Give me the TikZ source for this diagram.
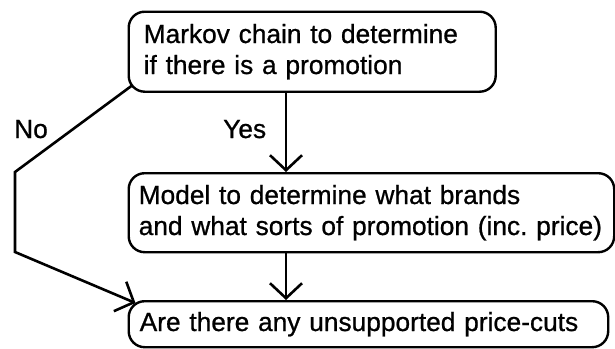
\documentclass[tikz,border=0pt]{standalone}
\usepackage{fontspec}
\setmainfont{Liberation Sans}[FakeBold=0.8]
\usetikzlibrary{arrows.meta,calc}

\tikzset{
  txt/.style={font=\fontsize{26.3}{31}\selectfont\frenchspacing},
  box/.style={draw, line width=2.4pt, rounded corners=16pt, anchor=north west,
    align=left, inner ysep=0pt, txt},
  lbl/.style={anchor=base west, inner sep=0pt, txt},
  conn/.style={line width=2.6pt, line join=miter,
    -{Straight Barb[length=15pt,width=32pt,line width=2.6pt]}}
}

\begin{document}
\begin{tikzpicture}[x=1pt,y=-1pt]
\useasboundingbox (0,0) rectangle (615,348);

% process boxes; each line is kept whole
\node[box, minimum width=367pt, minimum height=80pt, inner xsep=15pt,
      text width=337pt] (chain) at (127.5,10.5)
  {\mbox{Markov chain to determine}\\\mbox{if there is a promotion}};
\node[box, minimum width=485.5pt, minimum height=79pt, inner xsep=10pt,
      text width=465.5pt] (model) at (127.5,172)
  {\mbox{Model to determine what brands}\\\mbox{and what sorts of promotion (inc. price)}};
\node[box, minimum width=479.5pt, minimum height=46pt, inner xsep=11pt,
      text width=457.5pt] (cuts) at (127.5,300)
  {\mbox{Are there any unsupported price-cuts}};

% branch labels
\node[lbl] (yes) at (223,138) {Yes};
\node[lbl] (no) at (14,138) {No};

% main line
\coordinate (mid) at (286,0);
\draw[conn] (chain.south -| mid) -- (model.north -| mid);
\draw[conn] (model.south -| mid) -- (cuts.north -| mid);

% "No" branch round the left side
\coordinate (nstart) at ($(chain.south west)+(4,-7)$);
\coordinate (nk1) at (15,172);
\coordinate (nk2) at (15,252);
\coordinate (nend) at ($(cuts.north west)+(8,3)$);
\draw[conn] (nstart) -- (nk1) -- (nk2) -- (nend);
\end{tikzpicture}
\end{document}
